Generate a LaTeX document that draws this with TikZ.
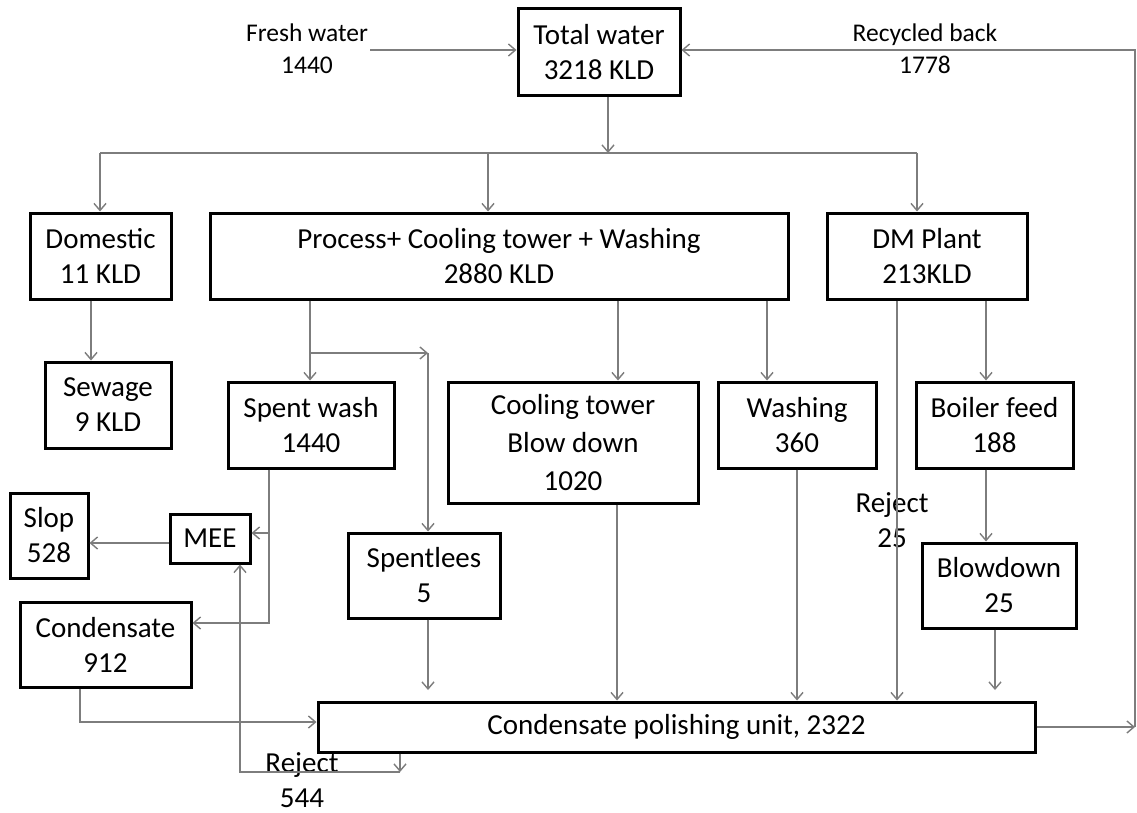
\documentclass[tikz,border=0pt]{standalone}
\usepackage{fontspec}
\setmainfont{Carlito}
\usetikzlibrary{arrows.meta}
\definecolor{ln}{RGB}{125,125,125}
\tikzset{
  box/.style={draw=black, line width=3pt, rectangle, inner sep=0pt, align=center, font=\fontsize{29}{35}\selectfont},
  lab/.style={inner sep=0pt, align=center, font=\fontsize{25.5}{32}\selectfont},
  labb/.style={inner sep=0pt, align=center, font=\fontsize{29}{35}\selectfont},
  conn/.style={draw=ln, line width=1.4pt},
  arr/.style={conn, -{Straight Barb[length=7pt,width=12pt]}},
}
\begin{document}
\begin{tikzpicture}[x=1pt,y=-1pt]
\fill[white] (0,0) rectangle (1137,813);
\useasboundingbox (0,0) rectangle (1137,813);

% boxes
\node[box, minimum width=162pt, minimum height=87pt] (tw) at (599,52.5) {Total water\\3218 KLD};
\node[box, minimum width=141pt, minimum height=86pt] (dom) at (100.5,256) {Domestic\\11 KLD};
\node[box, minimum width=578pt, minimum height=86pt] (proc) at (499,256) {Process+ Cooling tower + Washing\\2880 KLD};
\node[box, minimum width=200pt, minimum height=86pt] (dm) at (927,256) {DM Plant\\213KLD};
\node[box, minimum width=126pt, minimum height=86pt] (sew) at (108,405) {Sewage\\9 KLD};
\node[box, minimum width=166pt, minimum height=86pt] (sw) at (311,425) {Spent wash\\1440};
\node[box, minimum width=250pt, minimum height=121pt, font=\fontsize{29}{38}\selectfont] (ct) at (573,442.5) {Cooling tower\\Blow down\\1020};
\node[box, minimum width=158pt, minimum height=86pt] (wash) at (797,425) {Washing\\360};
\node[box, minimum width=157pt, minimum height=86pt] (bf) at (994.5,425) {Boiler feed\\188};
\node[box, minimum width=78pt, minimum height=85pt] (slop) at (49,535.5) {Slop\\528};
\node[box, minimum width=80pt, minimum height=49pt] (mee) at (210,538.5) {MEE};
\node[box, minimum width=152pt, minimum height=85pt] (sl) at (424,575.5) {Spentlees\\5};
\node[box, minimum width=154pt, minimum height=85pt] (bd) at (999,585.5) {Blowdown\\25};
\node[box, minimum width=171pt, minimum height=85pt] (cond) at (105.5,644.5) {Condensate\\912};
\node[box, minimum width=717pt, minimum height=50pt] (cpu) at (676.5,727) {Condensate polishing unit, 2322};

% free labels
\node[lab] (fwl) at (307,49) {Fresh water\\1440};
\node[lab] (rbl) at (925,49) {Recycled back\\1778};
\node[labb] (rj1) at (892,520) {Reject\\25};
\node[labb] (rj2) at (302,780) {Reject\\544};

% top inflows
\coordinate (fw) at (370,50);
\draw[arr] (fw) -- (fw -| tw.west);
\coordinate (rc) at (1135,727);
\coordinate (rt) at (1135,50);
\draw[arr] (cpu.east) -- (rc);
\draw[arr] (rc) -- (rt) -- (rt -| tw.east);

% distribution
\coordinate (hub) at (608,153);
\coordinate (dL) at (100,153);
\coordinate (dP) at (488,153);
\coordinate (dR) at (917,153);
\draw[arr] (hub |- tw.south) -- (hub);
\draw[conn] (dL) -- (dR);
\draw[arr] (dL) -- (dL |- dom.north);
\draw[arr] (dP) -- (dP |- proc.north);
\draw[arr] (dR) -- (dR |- dm.north);

% domestic to sewage
\coordinate (x1) at (91,0);
\draw[arr] (x1 |- dom.south) -- (x1 |- sew.north);

% process outflows
\coordinate (s1) at (310,353);
\coordinate (s2) at (428,353);
\draw[arr] (s1 |- proc.south) -- (s1 |- sw.north);
\draw[arr] (s1) -- (s2);
\draw[arr] (s2) -- (s2 |- sl.north);
\coordinate (x2) at (618,0);
\draw[arr] (x2 |- proc.south) -- (x2 |- ct.north);
\coordinate (x3) at (767,0);
\draw[arr] (x3 |- proc.south) -- (x3 |- wash.north);

% DM plant outflows
\coordinate (x4) at (986,0);
\draw[arr] (x4 |- dm.south) -- (x4 |- bf.north);
\draw[arr] (x4 |- bf.south) -- (x4 |- bd.north);
\coordinate (x5) at (897,0);
\draw[arr] (x5 |- dm.south) -- (x5 |- cpu.north);

% spent wash to MEE and condensate
\coordinate (m1) at (269,533);
\coordinate (m2) at (269,623);
\draw[arr] (m1 |- sw.south) -- (m2) -- (m2 -| cond.east);
\draw[arr] (m1) -- (m1 -| mee.east);
\coordinate (m3) at (170,543);
\draw[arr] (m3 -| mee.west) -- (m3 -| slop.east);

% into condensate polishing unit
\coordinate (c1) at (80,722);
\draw[arr] (c1 |- cond.south) -- (c1) -- (c1 -| cpu.west);
\coordinate (p1) at (428,690);
\draw[arr] (p1 |- sl.south) -- (p1);
\coordinate (p2) at (617,0);
\draw[arr] (p2 |- ct.south) -- (p2 |- cpu.north);
\coordinate (p3) at (797,0);
\draw[arr] (p3 |- wash.south) -- (p3 |- cpu.north);
\coordinate (p4) at (995,690);
\draw[arr] (p4 |- bd.south) -- (p4);

% reject back to MEE
\coordinate (r1) at (400,772);
\coordinate (r2) at (240,772);
\draw[arr] (r1 |- cpu.south) -- (r1);
\draw[arr] (r1) -- (r2) -- (r2 |- mee.south);
\end{tikzpicture}
\end{document}
